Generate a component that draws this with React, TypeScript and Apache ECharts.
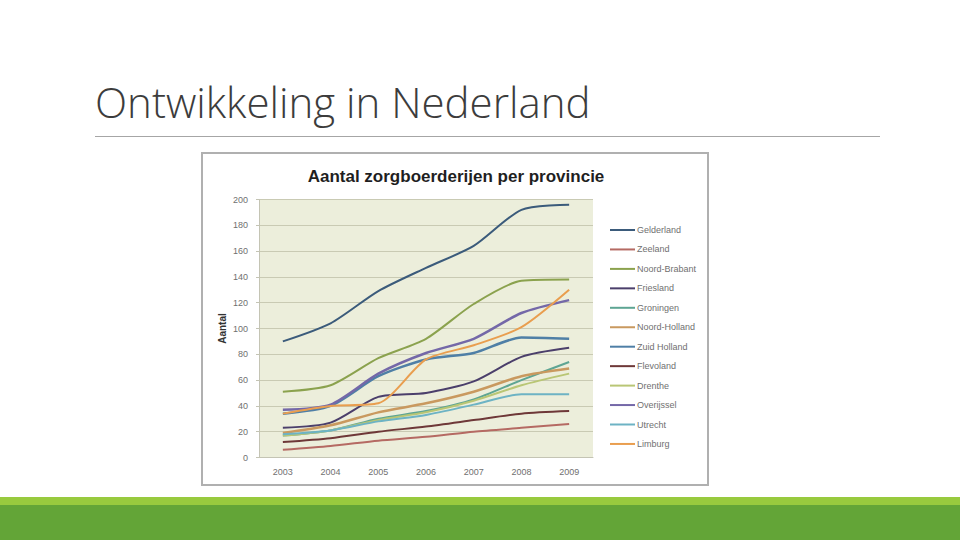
import React, { useEffect, useRef } from "react";
import * as echarts from "echarts";

const years = ["2003", "2004", "2005", "2006", "2007", "2008", "2009"];
const yTicks = { min: 0, max: 200, interval: 20 };

const gelderland = [90, 104, 129, 147, 164, 192, 196];
const zeeland = [6, 9, 13, 16, 20, 23, 26];
const noordBrabant = [51, 56, 77, 92, 119, 137, 138];
const friesland = [23, 27, 47, 50, 59, 78, 85];
const groningen = [17, 21, 30, 36, 45, 60, 74];
const noordHolland = [19, 25, 35, 42, 51, 63, 69];
const zuidHolland = [34, 40, 63, 76, 81, 93, 92];
const flevoland = [12, 15, 20, 24, 29, 34, 36];
const drenthe = [17, 21, 29, 35, 44, 56, 65];
const overijssel = [37, 41, 65, 81, 92, 112, 122];
const utrecht = [18, 21, 28, 33, 41, 49, 49];
const limburg = [34, 40, 42, 76, 87, 101, 130];

const seriesNames = [
  "Gelderland", "Zeeland", "Noord-Brabant", "Friesland", "Groningen", "Noord-Holland",
  "Zuid Holland", "Flevoland", "Drenthe", "Overijssel", "Utrecht", "Limburg",
];
const seriesData = [
  gelderland, zeeland, noordBrabant, friesland, groningen, noordHolland,
  zuidHolland, flevoland, drenthe, overijssel, utrecht, limburg,
];
const seriesColors = [
  "#3B5B7B", "#B56A63", "#8BA24E", "#4B3F6B", "#5EA593", "#C9995F",
  "#4F7FA6", "#6E3838", "#B9C675", "#7468A8", "#6DB3C4", "#E99E4F",
];
const seriesWidths = [2, 2, 2, 2, 2, 2.5, 2.5, 2, 2, 2.5, 2, 2];

const pageTitle = "Ontwikkeling in Nederland";
const chartTitle = "Aantal zorgboerderijen per provincie";
const yName = "Aantal";

export default function App() {
  const ref = useRef<HTMLDivElement>(null);
  useEffect(() => {
    if (!ref.current) return;
    const chart = echarts.init(ref.current, undefined, { renderer: "svg" });
    const font = "'Liberation Sans', Arial, sans-serif";
    chart.setOption({
      animation: false,
      backgroundColor: "#ffffff",
      textStyle: { fontFamily: font },
      title: {
        text: chartTitle,
        left: 451,
        textAlign: "center",
        top: 163,
        textStyle: { fontSize: 17, fontWeight: "bold", color: "#1f1f1f", fontFamily: font },
      },
      graphic: [
        {
          type: "text",
          left: 95,
          top: 80,
          style: {
            text: pageTitle,
            fontSize: 42,
            fontFamily: "'Open Sans', 'Liberation Sans', sans-serif",
            fontWeight: 300,
            fill: "#3c3c3c",
          },
        },
        { type: "rect", shape: { x: 95, y: 136, width: 785, height: 1 }, style: { fill: "#a6a6a6" } },
        {
          type: "rect",
          shape: { x: 202, y: 153, width: 506, height: 332 },
          style: { fill: "none", stroke: "#b0b0b0", lineWidth: 2 },
        },
        { type: "rect", shape: { x: 0, y: 497, width: 960, height: 8 }, style: { fill: "#98CA3E" } },
        { type: "rect", shape: { x: 0, y: 505, width: 960, height: 35 }, style: { fill: "#63A537" } },
      ],
      grid: {
        left: 259,
        right: 367,
        top: 199.5,
        bottom: 82.5,
        show: true,
        backgroundColor: "#ECEEDB",
        borderWidth: 0,
      },
      legend: {
        orient: "vertical",
        left: 605,
        top: 219,
        icon: "rect",
        itemWidth: 25,
        itemHeight: 2,
        itemGap: 7.45,
        textStyle: { fontSize: 9, color: "#707070", lineHeight: 12, padding: [0, 0, 0, -3] },
        data: seriesNames,
      },
      xAxis: {
        type: "category",
        data: years,
        boundaryGap: true,
        axisLine: { show: true, lineStyle: { color: "#c4c4b4" } },
        axisTick: { show: false },
        axisLabel: { fontSize: 9, color: "#707070", margin: 10 },
        splitLine: { show: false },
      },
      yAxis: {
        type: "value",
        min: yTicks.min,
        max: yTicks.max,
        interval: yTicks.interval,
        name: yName,
        nameLocation: "middle",
        nameRotate: 90,
        nameGap: 32,
        nameTextStyle: { fontSize: 10, fontWeight: "bold", color: "#333" },
        axisLine: { show: true, lineStyle: { color: "#c4c4b4" } },
        axisTick: { show: true, length: 3, lineStyle: { color: "#c4c4b4" } },
        axisLabel: { fontSize: 9, color: "#707070", margin: 11 },
        splitLine: { show: true, lineStyle: { color: "#C9CAB3", width: 1.2 } },
      },
      series: seriesNames.map((name, i) => ({
        name,
        type: "line",
        data: seriesData[i],
        symbol: "none",
        smooth: 0.25,
        color: seriesColors[i],
        lineStyle: { width: seriesWidths[i], color: seriesColors[i] },
      })),
    });
    return () => chart.dispose();
  }, []);
  return (
    <div
      ref={ref}
      style={{ position: "fixed", left: 0, top: 0, width: 960, height: 540 }}
    />
  );
}
